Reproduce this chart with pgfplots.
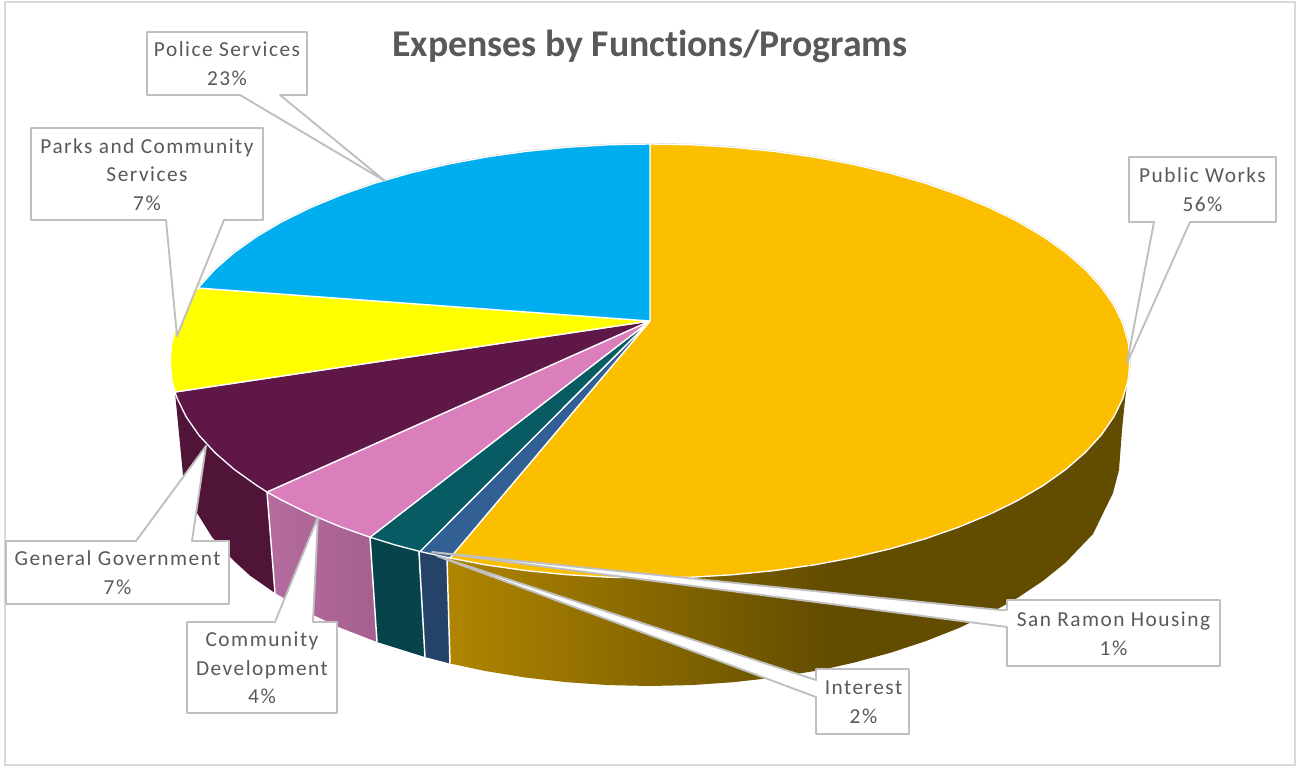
\documentclass[border=0pt]{standalone}
\usepackage{pgfplots}
\pgfplotsset{compat=1.18}
\usepackage{fontspec}
\setmainfont{Carlito}
\definecolor{txt}{HTML}{595959}
\definecolor{boxline}{HTML}{BFBFBF}
\definecolor{frameline}{HTML}{D9D9D9}
\definecolor{pw}{HTML}{FBBF00}
\definecolor{police}{HTML}{00AEEF}
\definecolor{parks}{HTML}{FFFF00}
\definecolor{gen}{HTML}{5F1748}
\definecolor{comm}{HTML}{DB7FBC}
\definecolor{inter}{HTML}{075B63}
\definecolor{housing}{HTML}{336094}
\definecolor{genside}{HTML}{4F1438}
\definecolor{commsideL}{HTML}{B56B9E}
\definecolor{commsideR}{HTML}{A5608F}
\definecolor{interside}{HTML}{07434A}
\definecolor{housingside}{HTML}{254268}
\definecolor{pwsideL}{HTML}{B08500}
\definecolor{pwsideR}{HTML}{624C00}
\pgfplotsset{
  slice/.style={draw=white,line width=1pt,line join=round,fill=#1},
  side/.style={draw=none,fill=#1},
  sep/.style={draw=white,line width=1.1pt},
  callout/.style={draw=boxline,line width=1.4pt,line join=round,fill=white},
}
\tikzset{lab/.style={text=txt,align=center,font=\fontsize{16}{21.5}\selectfont\addfontfeature{LetterSpace=7},inner sep=0pt}}
\begin{document}
\begin{tikzpicture}
\begin{axis}[
  scale only axis,
  width=972.75pt,height=574.5pt,
  xmin=0,xmax=1297,ymin=0,ymax=766,
  y dir=reverse,
  hide axis,
  clip=false,
]
% chart frame
\addplot[draw=white,fill=white,line width=0pt] coordinates {(0,0)(1297,0)(1297,766)(0,766)} -- cycle;
\addplot[draw=frameline,line width=1.2pt,line join=miter] coordinates {(5,2)(1295,2)(1295,765)(5,765)} -- cycle;

% sides, their upper edges lie under the top faces
\addplot[side=genside] coordinates {(175,385)(267,485)(275,593)(250,575.6)(233,560)(212,537)(197,513)(183,475)(175,392)} -- cycle;
\addplot[draw=none,left color=commsideL,right color=commsideR] coordinates {(267,485)(370,530)(377,642)(340,627.6)(310,613.4)(275,593)} -- cycle;
\addplot[side=interside] coordinates {(370,530)(418,545)(425,657)(377,642)} -- cycle;
\addplot[side=housingside] coordinates {(418,545)(450,545)(450,663.5)(425,657)} -- cycle;
\addplot[draw=none,left color=pwsideL,right color=pwsideR] coordinates {(447,550)(830,550)(830,668)(814.2,671.1)(774.2,677.6)(733.3,682.2)(691.9,685.1)(650,686)(608.1,685.1)(566.7,682.2)(525.8,677.6)(485.8,671.1)(450,663.5)} -- cycle;
\addplot[side=pwsideR] coordinates {(830,550)(1127,385)(1125,400)(1122,430)(1119,470)(1113,493)(1093,534)(1065.7,562.5)(1043.2,580.7)(1017.7,597.8)(989.4,613.7)(958.5,628.2)(925.3,641.3)(890,652.9)(852.8,662.9)(830,668)} -- cycle;
\addplot[sep] coordinates {(267,492)(275,593)};
\addplot[sep] coordinates {(370,537)(377,642)};
\addplot[sep] coordinates {(419,552)(425,657)};
\addplot[sep] coordinates {(447,558)(450,663.5)};

% rim shadow
\addplot[draw=black!20,line width=1.5pt] coordinates {(198.9,286.8)(215,269.3)(234.3,252.5)(256.8,236.5)(282.3,221.5)(310.6,207.6)(341.5,194.8)(374.7,183.2)(410,173.1)(447.2,164.3)(485.8,157.1)(525.8,151.4)(566.7,147.3)(608.1,144.8)(650,144)(691.9,144.8)(733.3,147.3)(774.2,151.4)(814.2,157.1)(852.8,164.3)(890,173.1)(925.3,183.2)(958.5,194.8)(989.4,207.6)(1017.7,221.5)(1043.2,236.5)(1065.7,252.5)(1085,269.3)(1101.1,286.8)(1113.6,304.8)(1122.7,323.3)(1128.2,342.1)(1130,361)(1128.2,379.9)};

% top faces
\addplot[slice=pw] coordinates {(650,321)(650,144)(691.9,144.8)(733.3,147.3)(774.2,151.4)(814.2,157.1)(852.8,164.3)(890,173.1)(925.3,183.2)(958.5,194.8)(989.4,207.6)(1017.7,221.5)(1043.2,236.5)(1065.7,252.5)(1085,269.3)(1101.1,286.8)(1113.6,304.8)(1122.7,323.3)(1128.2,342.1)(1130,361)(1128.2,379.9)(1122.7,398.7)(1113.6,417.2)(1101.1,435.2)(1085,452.7)(1065.7,469.5)(1043.2,485.5)(1017.7,500.5)(989.4,514.4)(958.5,527.2)(925.3,538.8)(890,548.9)(852.8,557.7)(814.2,564.9)(774.2,570.6)(733.3,574.7)(691.9,577.2)(650,578)(608.1,577.2)(566.7,574.7)(525.8,570.6)(485.8,564.9)(450,558)} -- cycle;
\addplot[slice=housing] coordinates {(650,321)(450,558)(420,551.5)} -- cycle;
\addplot[slice=inter] coordinates {(650,321)(420,551.5)(395,544.9)(370,537.2)} -- cycle;
\addplot[slice=comm] coordinates {(650,321)(370,537.2)(341.5,527.2)(310.6,514.4)(282.3,500.5)(267,492)} -- cycle;
\addplot[slice=gen] coordinates {(650,321)(267,492)(256.8,485.5)(234.3,469.5)(215,452.7)(198.9,435.2)(186.4,417.2)(177.3,398.7)(175,392)} -- cycle;
\addplot[slice=parks] coordinates {(650,321)(175,392)(171.8,379.9)(170,361)(171.8,342.1)(177.3,323.3)(186.4,304.8)(198,288)} -- cycle;
\addplot[slice=police] coordinates {(650,321)(198,288)(215,269.3)(234.3,252.5)(256.8,236.5)(282.3,221.5)(310.6,207.6)(341.5,194.8)(374.7,183.2)(410,173.1)(447.2,164.3)(485.8,157.1)(525.8,151.4)(566.7,147.3)(608.1,144.8)(650,144)} -- cycle;

% callouts
\addplot[callout] coordinates {(147,32)(307,32)(307,95)(280,95)(385,181)(240,95)(147,95)} -- cycle;
\addplot[callout] coordinates {(31,128)(263,128)(263,220)(224,220)(177,336)(166,220)(31,220)} -- cycle;
\addplot[callout] coordinates {(6,541)(136,541)(206,446)(192,541)(229,541)(229,604)(6,604)} -- cycle;
\addplot[callout] coordinates {(187,622)(275,622)(318,517)(313,622)(337,622)(337,713)(187,713)} -- cycle;
\addplot[callout] coordinates {(1129,157)(1276,157)(1276,222)(1190,222)(1127,363)(1154,222)(1129,222)} -- cycle;
\addplot[callout] coordinates {(1007,600)(1220,600)(1220,666)(1007,666)(1007,627)(432,552)(1000,610)(1007,610)} -- cycle;
\addplot[callout] coordinates {(816,669)(909,669)(909,734)(816,734)(816,697)(437,556)(816,680)} -- cycle;

\node[font=\fontsize{28.3}{32}\selectfont\bfseries\addfontfeature{Ligatures=NoCommon},text=txt,inner sep=0pt] at (axis cs:650,46) {Expenses by Functions/Programs};
\node[lab] at (axis cs:227,64) {Police Services\\23\%};
\node[lab] at (axis cs:147,174.5) {Parks and Community\\Services\\7\%};
\node[lab] at (axis cs:117.5,573) {General Government\\7\%};
\node[lab] at (axis cs:262,668) {Community\\Development\\4\%};
\node[lab] at (axis cs:1202.5,190) {Public Works\\56\%};
\node[lab] at (axis cs:1113.5,633.5) {San Ramon Housing\\1\%};
\node[lab] at (axis cs:863.5,702) {Interest\\2\%};
\end{axis}
\end{tikzpicture}
\end{document}
